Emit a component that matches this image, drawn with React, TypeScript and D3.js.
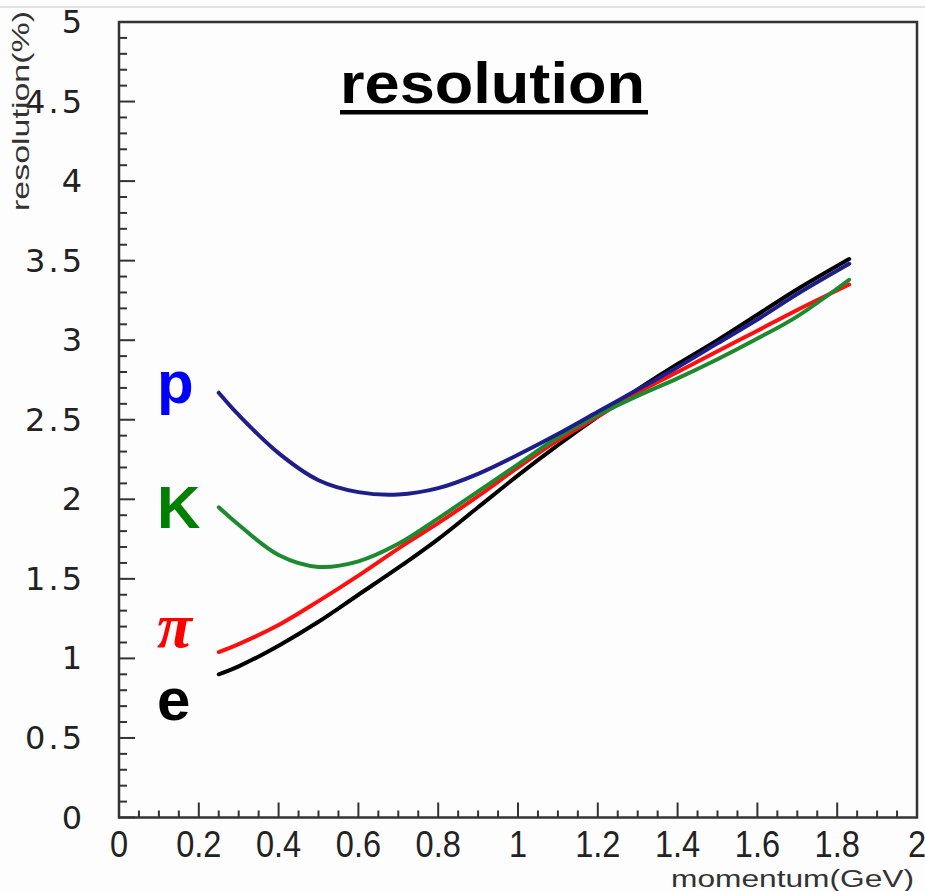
import React from "react";
import * as d3 from "d3";

const momentum = [0.25, 0.3, 0.4, 0.5, 0.6, 0.7, 0.8, 0.9, 1.0, 1.1, 1.2, 1.3, 1.4, 1.5, 1.6, 1.7, 1.83];
const protonRes = [2.67, 2.53, 2.29, 2.12, 2.045, 2.03, 2.07, 2.16, 2.28, 2.41, 2.55, 2.69, 2.83, 2.98, 3.13, 3.29, 3.48];
const kaonRes = [1.95, 1.84, 1.65, 1.575, 1.61, 1.72, 1.88, 2.05, 2.22, 2.39, 2.53, 2.65, 2.76, 2.88, 3.01, 3.15, 3.38];
const pionRes = [1.04, 1.09, 1.21, 1.36, 1.52, 1.69, 1.85, 2.02, 2.2, 2.37, 2.52, 2.67, 2.8, 2.93, 3.06, 3.19, 3.35];
const electronRes = [0.9, 0.95, 1.08, 1.23, 1.4, 1.57, 1.75, 1.95, 2.15, 2.34, 2.52, 2.69, 2.85, 3.0, 3.16, 3.32, 3.51];

const xTickLabels = ["0", "0.2", "0.4", "0.6", "0.8", "1", "1.2", "1.4", "1.6", "1.8", "2"];
const yTickLabels = ["0", "0.5", "1", "1.5", "2", "2.5", "3", "3.5", "4", "4.5", "5"];

const seriesNames = ["e", "π", "K", "p"];
const seriesColors = ["#000000", "#ff1010", "#1e8a30", "#1e1e8a"];
const labelColors = ["#000000", "#ff0000", "#008000", "#0000ff"];
const seriesValues = [electronRes, pionRes, kaonRes, protonRes];

const title = "resolution";
const xTitle = "momentum(GeV)";
const yTitle = "resolution(%)";

export default function App() {
  const W = 925, H = 891;
  const left = 119, right = 917, top = 22, bottom = 817.5;
  const x = d3.scaleLinear().domain([0, 2]).range([left, right]);
  const y = d3.scaleLinear().domain([0, 5]).range([bottom, top]);

  const line = d3
    .line<number>()
    .x((_, i) => x(momentum[i]))
    .y((d) => y(d))
    .curve(d3.curveCatmullRom.alpha(0.5));

  const xMinor = d3.range(0, 2.0001, 0.05);
  const yMinor = d3.range(0, 5.0001, 0.1);

  const labelBold = [true, true, true, true];
  const labelItalic = [false, true, false, false];
  const labelFamily = ["Liberation Sans", "Liberation Serif", "Liberation Sans", "Liberation Sans"];
  const labelSize = [60, 64, 60, 60];
  const labelBaseline = [720, 647, 528, 403];

  return (
    <svg
      width={W}
      height={H}
      style={{ position: "absolute", left: 0, top: 0, background: "#fdfdfd" }}
    >
      <rect x={0} y={0} width={W} height={H} fill="#fdfdfd" />
      <line x1={0} x2={W} y1={7} y2={7} stroke="#e2e2e2" strokeWidth={2} />

      {xMinor.map((v, i) => {
        const major = Math.abs(v / 0.2 - Math.round(v / 0.2)) < 1e-6;
        return (
          <line
            key={"xm" + i}
            x1={x(v)}
            x2={x(v)}
            y1={bottom}
            y2={bottom - (major ? 15 : 7)}
            stroke="#333"
            strokeWidth={2}
          />
        );
      })}
      {yMinor.map((v, i) => {
        const major = Math.abs(v / 0.5 - Math.round(v / 0.5)) < 1e-6;
        return (
          <line
            key={"ym" + i}
            x1={left}
            x2={left + (major ? 16 : 8)}
            y1={y(v)}
            y2={y(v)}
            stroke="#333"
            strokeWidth={2}
          />
        );
      })}

      <rect
        x={left}
        y={top}
        width={right - left}
        height={bottom - top}
        fill="none"
        stroke="#333"
        strokeWidth={2.5}
      />

      {seriesValues.map((vals, i) => (
        <path
          key={"c" + i}
          d={line(vals) || ""}
          fill="none"
          stroke={seriesColors[i]}
          strokeWidth={4}
          strokeLinecap="round"
        />
      ))}

      {yTickLabels.map((t, i) => (
        <text
          key={"yl" + i}
          x={85}
          y={y(+t)}
          textAnchor="end"
          dominantBaseline="central"
          fontFamily="DejaVu Sans"
          fontSize={32}
          letterSpacing={3}
          fill="#222"
        >
          {t}
        </text>
      ))}

      {xTickLabels.map((t, i) => (
        <text
          key={"xl" + i}
          transform={`translate(${x(+t)},${857}) scale(0.88,1)`}
          textAnchor="middle"
          fontFamily="Liberation Sans"
          fontSize={37}
          fill="#222"
        >
          {t}
        </text>
      ))}

      <text
        x={914}
        y={887}
        textAnchor="end"
        fontFamily="Liberation Sans"
        fontSize={23}
        textLength={243}
        lengthAdjust="spacingAndGlyphs"
        fill="#333"
      >
        {xTitle}
      </text>
      <text
        transform={`translate(29,111) rotate(-90)`}
        textAnchor="middle"
        fontFamily="Liberation Sans"
        fontSize={24}
        textLength={200}
        lengthAdjust="spacingAndGlyphs"
        fill="#333"
      >
        {yTitle}
      </text>

      <text
        x={340}
        y={103}
        fontFamily="Liberation Sans"
        fontWeight="bold"
        fontSize={58}
        textLength={305}
        lengthAdjust="spacingAndGlyphs"
        fill="#000"
      >
        {title}
      </text>
      <rect x={340} y={110} width={308} height={4.5} fill="#000" />

      {seriesNames.map((n, i) => (
        <text
          key={"pl" + i}
          x={157}
          y={labelBaseline[i]}
          fontFamily={labelFamily[i]}
          fontWeight={labelBold[i] ? "bold" : "normal"}
          fontStyle={labelItalic[i] ? "italic" : "normal"}
          fontSize={labelSize[i]}
          fill={labelColors[i]}
        >
          {n}
        </text>
      ))}
    </svg>
  );
}
